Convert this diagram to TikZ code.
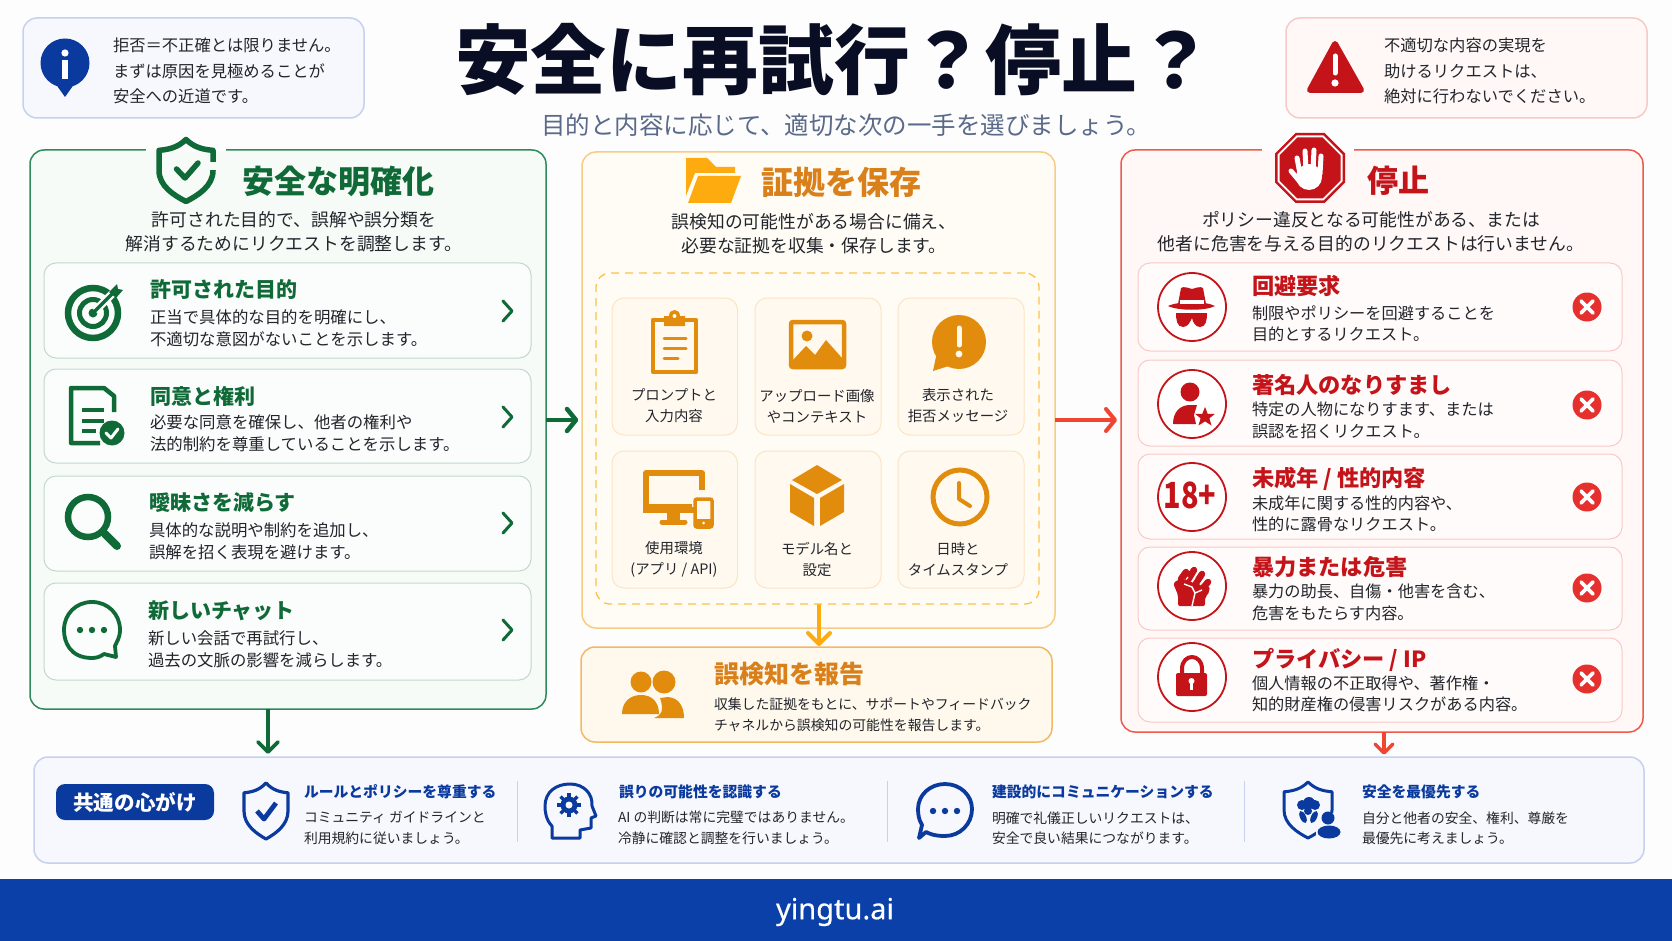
\documentclass[tikz,border=0pt]{standalone}
\usepackage{fontspec}
\setmainfont{Noto Sans CJK JP}
\IfFontExistsTF{Noto Sans CJK JP Black}{\newfontfamily\titlefont{Noto Sans CJK JP Black}}{\newfontfamily\titlefont{Noto Sans CJK JP Bold}}
\newfontfamily\latinfont[FakeBold=0.4]{Noto Sans}
\definecolor{bgc}{HTML}{FDFDFE}
\definecolor{ink}{HTML}{22252B}
\definecolor{titleink}{HTML}{0A0E24}
\definecolor{subink}{HTML}{5A6A88}
\definecolor{navy}{HTML}{0B3A9E}
\definecolor{footc}{HTML}{0A40A8}
\definecolor{blueB}{HTML}{C6D1EE}
\definecolor{blueF}{HTML}{F6F8FD}
\definecolor{gD}{HTML}{0F6A38}
\definecolor{gB}{HTML}{2F8A5C}
\definecolor{gF}{HTML}{F6FBF7}
\definecolor{gcB}{HTML}{C3D9CD}
\definecolor{gcF}{HTML}{FAFDFB}
\definecolor{oT}{HTML}{D9801A}
\definecolor{oI}{HTML}{E28C0E}
\definecolor{oY}{HTML}{FDAB0E}
\definecolor{oB}{HTML}{F8CC82}
\definecolor{oF}{HTML}{FFFCF6}
\definecolor{otF}{HTML}{FFF9EF}
\definecolor{otB}{HTML}{FBE5C4}
\definecolor{orF}{HTML}{FFF8EC}
\definecolor{orB}{HTML}{F3B862}
\definecolor{rD}{HTML}{C4141A}
\definecolor{rB}{HTML}{EE5A4C}
\definecolor{rF}{HTML}{FFF8F7}
\definecolor{rcB}{HTML}{F8C9C6}
\definecolor{rcF}{HTML}{FFFBFA}
\definecolor{rX}{HTML}{E6302E}
\definecolor{rA}{HTML}{F04530}
\definecolor{wB}{HTML}{F8CAC6}
\newcommand\bx[6]{\node[#1,minimum width={(#5-#3)*1pt},minimum height={(#6-#4)*1pt}] (#2) at ({(#3+#5)/2},{(#4+#6)/2}) {};}
\newcommand\unitshield{(0,-1) .. controls (-.3,-.75) and (-.6,-.68) .. (-1,-.65) -- (-1,0) .. controls (-1,.5) and (-.45,.8) .. (0,1) .. controls (.45,.8) and (1,.5) .. (1,0) -- (1,-.65) .. controls (.6,-.68) and (.3,-.75) .. (0,-1) -- cycle}
\newcommand\unitocta{(-.414,-1) -- (.414,-1) -- (1,-.414) -- (1,.414) -- (.414,1) -- (-.414,1) -- (-1,.414) -- (-1,-.414) -- cycle}
\newcommand\xmark[2]{\fill[rX] (#1,#2) circle[radius=14.5];
 \draw[white,line width=3.6pt,line cap=round] (#1-6,#2-6) -- (#1+6,#2+6) (#1+6,#2-6) -- (#1-6,#2+6);}
\newcommand\ring[2]{\draw[rD,line width=1.8pt,fill=white] (#1,#2) circle[radius=34];}
\newcommand\chev[2]{\draw[gD,line width=3pt,line cap=round,line join=round] (#1-4,#2-10) -- (#1+5,#2) -- (#1-4,#2+10);}
\tikzset{
 every node/.style={inner sep=0pt,outer sep=0pt},
 pan/.style={draw,rounded corners=14pt,line width=1.5pt},
 crd/.style={draw,rounded corners=12pt,line width=1pt},
 tL/.style={anchor=west,align=left,text=ink},
 tC/.style={anchor=center,align=center,text=ink},
 gT/.style={anchor=west,text=gD,font=\bfseries\fontsize{21}{24}\selectfont},
 gb/.style={tL,font=\fontsize{16.4}{22}\selectfont},
 rT/.style={anchor=west,text=rD,font=\bfseries\fontsize{22.2}{24}\selectfont},
 rb/.style={tL,font=\fontsize{16.2}{21.5}\selectfont},
 desc/.style={tC,font=\fontsize{17.8}{24}\selectfont},
 note/.style={tL,font=\fontsize{16.3}{25.5}\selectfont},
 tile/.style={tC,font=\fontsize{14.4}{21}\selectfont,text=ink},
 bT/.style={anchor=west,text=navy,font=\bfseries\fontsize{14.8}{18}\selectfont},
 bb/.style={tL,font=\fontsize{13.8}{20.5}\selectfont},
 oarrow/.style={line width=#1,line cap=round,line join=round},
}
\begin{document}
\begin{tikzpicture}[x=1pt,y=-1pt]
\useasboundingbox (0,0) rectangle (1672,941);
\fill[bgc] (0,0) rectangle (1672,941);
% top notes
\bx{pan,draw=blueB,fill=blueF}{infobox}{23}{18}{364}{118}
\bx{pan,draw=wB,fill=rF}{warnbox}{1286}{18}{1647}{118}
\fill[navy] (65,63) circle[radius=24.5] (55,83) -- (75,83) -- (65,97) -- cycle;
\fill[white] (65,53) circle[radius=3.6];
\draw[white,line width=6pt] (65,60) -- (65,79);
\node[note] (infot) at (113,71) {拒否＝不正確とは限りません。\\まずは原因を見極めることが\\安全への近道です。};
\draw[fill=rD,draw=rD,line width=6pt,line join=round] (1335,44) -- (1361,90) -- (1310,90) -- cycle;
\draw[white,line width=5pt,line cap=round] (1335,56) -- (1335,73);
\fill[white] (1335,83) circle[radius=3.6];
\node[note] (warnt) at (1384,71) {不適切な内容の実現を\\助けるリクエストは、\\絶対に行わないでください。};
% heading
\node[anchor=center,text=titleink,font=\titlefont\fontsize{75.8}{80}\selectfont] (head) at (834,60) {安全に再試行？停止？};
\node[anchor=center,text=subink,font=\fontsize{24.5}{28}\selectfont] (sub) at (846,125) {目的と内容に応じて、適切な次の一手を選びましょう。};
% panels
\bx{pan,draw=gB,fill=gF}{greenp}{30}{150}{546}{709}
\bx{pan,draw=oB,fill=oF}{orangep}{582}{152}{1055}{628}
\bx{pan,draw=rB,fill=rF}{redp}{1121}{150}{1643}{732}
\draw[bgc,line width=3pt] (146,150) -- (226,150);
\draw[bgc,line width=3pt] (1262,150) -- (1354,150);
\bx{pan,draw=orB,fill=orF}{reportp}{581}{647}{1052}{742}
\bx{pan,draw=blueB,fill=blueF}{bottomp}{34}{757}{1644}{863}
\fill[footc] (0,879) rectangle (1672,941);
\node[anchor=center,text=white,font=\latinfont\fontsize{29}{32}\selectfont] (foot) at (835,912) {yingtu.ai};
% connectors
\coordinate (ay) at (0,420);
\coordinate (gx) at (268,0);
\coordinate (ox) at (819,0);
\coordinate (rx) at (1384,0);
\draw[gD,line width=4.5pt] (greenp.east |- ay) -- (574,420);
\draw[gD,oarrow=4.5pt] (567,409) -- (576,420) -- (567,431);
\draw[rA,line width=4pt] (orangep.east |- ay) -- (1113,420);
\draw[rA,oarrow=4pt] (1106,409) -- (1115,420) -- (1106,431);
\coordinate (otop) at (819,604);
\draw[oY,line width=4pt] (otop) -- (819,642);
\draw[oY,oarrow=4pt] (808,633) -- (819,644) -- (830,633);
\draw[gD,line width=3.6pt] (greenp.south -| gx) -- (268,751);
\draw[gD,oarrow=3.6pt] (258,742) -- (268,752) -- (278,742);
\draw[rA,line width=3.4pt] (redp.south -| rx) -- (1384,752);
\draw[rA,oarrow=3.4pt] (1375,744) -- (1384,753) -- (1393,744);
% green header
\draw[gD,line width=5.5pt,line join=round,shift={(186,170.5)},xscale=27,yscale=31] \unitshield;
\draw[gF,line width=7pt] (213,162) -- (213,170);
\draw[gD,line width=5.5pt,line cap=round,line join=round] (176.5,169) -- (185,178) -- (198,163);
\node[anchor=west,text=gD,font=\bfseries\fontsize{32}{36}\selectfont] (gtitle) at (242,181) {安全な明確化};
\node[desc] (gdesc) at (294,232) {許可された目的で、誤解や誤分類を\\解消するためにリクエストを調整します。};
% green cards
\bx{crd,draw=gcB,fill=gcF}{g1}{44}{263}{531}{358}
\bx{crd,draw=gcB,fill=gcF}{g2}{44}{369}{531}{463}
\bx{crd,draw=gcB,fill=gcF}{g3}{44}{476}{531}{571}
\bx{crd,draw=gcB,fill=gcF}{g4}{44}{583}{531}{680}
\node[gT] (g1t) at (150,289) {許可された目的};
\node[gb] (g1b) at (150,328) {正当で具体的な目的を明確にし、\\不適切な意図がないことを示します。};
\node[gT] (g2t) at (150,396) {同意と権利};
\node[gb] (g2b) at (150,433) {必要な同意を確保し、他者の権利や\\法的制約を尊重していることを示します。};
\node[gT] (g3t) at (149,503) {曖昧さを減らす};
\node[gb] (g3b) at (149,541.5) {具体的な説明や制約を追加し、\\誤解を招く表現を避けます。};
\node[gT] (g4t) at (148,611) {新しいチャット};
\node[gb] (g4b) at (148,649.5) {新しい会話で再試行し、\\過去の文脈の影響を減らします。};
\chev{507}{311}\chev{507}{417}\chev{507}{523}\chev{507}{630}
% target
\draw[gD,line width=6.5pt] (93,313) circle[radius=25];
\draw[gD,line width=5pt] (93,313) circle[radius=13.5];
\fill[gD] (93,313) circle[radius=4.5];
\draw[gcF,line width=8pt] (95,311) -- (115,291);
\draw[gD,line width=3.5pt] (93,313) -- (115,291);
\fill[gD] (109,292) -- (117,284) -- (118,289) -- (123,290) -- (116,298) -- cycle;
% doc
\draw[gD,line width=4.5pt,line join=round] (114,412) -- (114,396) -- (104,388) -- (71,388) -- (71,443) -- (100,443);
\draw[gD,line width=3.5pt] (82,410) -- (104,410) (82,421) -- (104,421) (82,431) -- (96,431);
\fill[gD] (112,433) circle[radius=12.5];
\draw[white,line width=3pt,line cap=round,line join=round] (106,433) -- (111,438) -- (118,429);
% magnifier
\draw[gD,line width=6.5pt] (88,517) circle[radius=20];
\draw[gD,line width=8pt,line cap=round] (105,534) -- (117,546);
% green bubble
\draw[gD,line width=3.8pt,line join=round] (92,658) .. controls (70,658) and (64,642) .. (64,630) .. controls (64,614) and (76,602) .. (92,602) .. controls (108,602) and (120,614) .. (120,630) .. controls (120,638) and (116,643) .. (115,646) -- (116,657) -- (104,654) .. controls (100,657) and (96,658) .. (92,658) -- cycle;
\fill[gD] (80,630) circle[radius=3.2] (92,630) circle[radius=3.2] (104,630) circle[radius=3.2];
% orange header
\fill[oY] (686,158) -- (707,158) -- (716,167) -- (735,167) -- (735,173) -- (695,173) -- (689,188) -- (686,196) -- cycle;
\fill[oY] (698,176) -- (741,176) -- (731,203) -- (688,203) -- cycle;
\node[anchor=west,text=oT,font=\bfseries\fontsize{32}{36}\selectfont] (otitle) at (761,182) {証拠を保存};
\node[desc] (odesc) at (814,234) {誤検知の可能性がある場合に備え、\\必要な証拠を収集・保存します。};
\bx{draw=oY!75,rounded corners=14pt,line width=1.3pt,dash pattern=on 8pt off 6pt}{dashbox}{596}{273}{1039}{604}
\bx{crd,draw=otB,fill=otF}{t1}{612}{298}{737.5}{435}
\bx{crd,draw=otB,fill=otF}{t2}{755}{298}{881}{435}
\bx{crd,draw=otB,fill=otF}{t3}{898}{298}{1024}{435}
\bx{crd,draw=otB,fill=otF}{t4}{612}{451}{737.5}{588}
\bx{crd,draw=otB,fill=otF}{t5}{755}{451}{881}{588}
\bx{crd,draw=otB,fill=otF}{t6}{898}{451}{1024}{588}
\node[tile] (t1t) at (674,406) {プロンプトと\\入力内容};
\node[tile] (t2t) at (817,406) {アップロード画像\\やコンテキスト};
\node[tile] (t3t) at (958,406) {表示された\\拒否メッセージ};
\node[tile] (t4t) at (674,559.5) {使用環境\\(アプリ / API)};
\node[tile] (t5t) at (817,559.5) {モデル名と\\設定};
\node[tile] (t6t) at (958,559.5) {日時と\\タイムスタンプ};
% clipboard
\draw[oI,line width=4.5pt,line join=round] (664,320) -- (653,320) -- (653,372) -- (696,372) -- (696,320) -- (685,320);
\fill[oI] (664,316) -- (669,316) .. controls (669,308) and (680,308) .. (680,316) -- (685,316) -- (685,326) -- (664,326) -- cycle;
\fill[otF] (674.5,316) circle[radius=2];
\draw[oI,line width=3pt,line cap=round] (664,338) -- (686,338) (664,348) -- (686,348) (664,358) -- (678,358);
% image
\draw[oI,line width=4.5pt,rounded corners=2pt,fill=otF] (791,322) rectangle (844,367);
\fill[oI] (807,336) circle[radius=5.5];
\fill[oI] (793,360) -- (806,346) -- (815,355) -- (826,340) -- (842,358) -- (842,365) -- (793,365) -- cycle;
% bubble
\fill[oI] (959,342) circle[radius=27];
\fill[oI] (937,352) -- (933,371) -- (955,364) -- cycle;
\draw[otF,line width=5pt,line cap=round] (959,328) -- (959,345);
\fill[otF] (959,354) circle[radius=3.4];
% monitor
\draw[oI,line width=5.5pt,line join=round] (695,510) -- (646,510) -- (646,473) -- (702,473) -- (702,490);
\fill[oI] (643,504) rectangle (692,513);
\fill[oI] (667,513) rectangle (680,520);
\draw[oI,line width=5pt,line cap=round] (662,522) -- (685,522);
\draw[oI,line width=3.5pt,fill=otF,rounded corners=2pt] (695,499) rectangle (712,527);
\fill[oI] (695,519) rectangle (712,527);
\fill[otF] (703.5,523) circle[radius=1.5];
% cube
\fill[oI] (817,465) -- (842,480) -- (817,494) -- (792,480) -- cycle;
\fill[oI] (790,484) -- (814,498) -- (814,526) -- (790,512) -- cycle;
\fill[oI] (844,484) -- (820,498) -- (820,526) -- (844,512) -- cycle;
% clock
\draw[oI,line width=5pt] (960,497) circle[radius=27];
\draw[oI,line width=4pt,line cap=round,line join=round] (959,483) -- (959,499) -- (970,506);
% report
\fill[oI] (641,682) circle[radius=10.5];
\fill[oI] (664,682) circle[radius=11.5];
\fill[oI] (668,697) .. controls (680,698) and (684,708) .. (684,718) -- (654,718) .. controls (660,716) and (665,712) .. (660,698) -- cycle;
\fill[oI] (622,714) .. controls (622,702) and (630,695) .. (641,695) .. controls (652,695) and (659,702) .. (659,714) -- cycle;
\node[anchor=west,text=oT,font=\bfseries\fontsize{25}{28}\selectfont] (rptt) at (714,674) {誤検知を報告};
\node[tL,font=\fontsize{13.85}{21}\selectfont] (rptb) at (714,714.5) {収集した証拠をもとに、サポートやフィードバック\\チャネルから誤検知の可能性を報告します。};
% red header
\fill[rD,shift={(1310,168)},scale=35] \unitocta;
\fill[white,shift={(1310,168)},scale=32.5] \unitocta;
\fill[rD,shift={(1310,168)},scale=30.5] \unitocta;
\fill[white] (1309,177) circle[radius=13];
\draw[white,line width=5pt,line cap=round] (1300,174) -- (1297,158) (1306,170) -- (1305,151) (1313,170) -- (1314,150) (1320,174) -- (1321,156) (1301,183) -- (1291,171);
\node[anchor=west,text=rD,font=\bfseries\fontsize{31}{36}\selectfont] (rtitle) at (1367,181) {停止};
\node[desc] (rdesc) at (1371,232) {ポリシー違反となる可能性がある、または\\他者に危害を与える目的のリクエストは行いません。};
% red cards
\bx{crd,draw=rcB,fill=rcF}{r1}{1138}{263}{1622}{351}
\bx{crd,draw=rcB,fill=rcF}{r2}{1138}{360}{1622}{446}
\bx{crd,draw=rcB,fill=rcF}{r3}{1138}{454}{1622}{539}
\bx{crd,draw=rcB,fill=rcF}{r4}{1138}{547}{1622}{630}
\bx{crd,draw=rcB,fill=rcF}{r5}{1138}{638}{1622}{722}
\node[rT] (r1t) at (1252,286) {回避要求};
\node[rb] (r1b) at (1252,323.5) {制限やポリシーを回避することを\\目的とするリクエスト。};
\node[rT] (r2t) at (1252,385) {著名人のなりすまし};
\node[rb] (r2b) at (1252,420.5) {特定の人物になりすます、または\\誤認を招くリクエスト。};
\node[rT] (r3t) at (1252,478.5) {未成年 / 性的内容};
\node[rb] (r3b) at (1252,514) {未成年に関する性的内容や、\\性的に露骨なリクエスト。};
\node[rT] (r4t) at (1252,567) {暴力または危害};
\node[rb] (r4b) at (1252,602.5) {暴力の助長、自傷・他害を含む、\\危害をもたらす内容。};
\node[rT] (r5t) at (1252,659.5) {プライバシー / IP};
\node[rb] (r5b) at (1252,694) {個人情報の不正取得や、著作権・\\知的財産権の侵害リスクがある内容。};
\xmark{1587}{307}\xmark{1587}{405}\xmark{1587}{497}\xmark{1587}{588}\xmark{1587}{679}
\ring{1192}{307}\ring{1192}{404}\ring{1192}{497}\ring{1192}{586}\ring{1192}{677}
% spy
\fill[rD] (1178,304) -- (1181,288) .. controls (1184,286) and (1188,288) .. (1192,289) .. controls (1196,288) and (1200,286) .. (1203,288) -- (1206,304) -- cycle;
\fill[rD] (1168,306) .. controls (1178,301) and (1206,301) .. (1215,306) .. controls (1206,311) and (1178,311) .. (1168,306) -- cycle;
\fill[white] (1180,300) rectangle (1204,303.5);
\fill[rD] (1176,313) -- (1207,313) .. controls (1207,320) and (1206,327) .. (1200,327) .. controls (1195,327) and (1193,322) .. (1192,318) .. controls (1190,322) and (1188,327) .. (1183,327) .. controls (1177,327) and (1176,320) .. (1176,313) -- cycle;
% person star
\fill[rD] (1190,392) circle[radius=9.5];
\fill[rD] (1173,424) .. controls (1173,412) and (1180,405) .. (1190,405) -- (1197,405) -- (1194,415) -- (1196,424) -- cycle;
\fill[rD,shift={(1205,417)}] (0,-10) -- (2.7,-3.2) -- (10,-3.2) -- (4.4,1.3) -- (6.5,8.5) -- (0,4.4) -- (-6.5,8.5) -- (-4.4,1.3) -- (-10,-3.2) -- (-2.7,-3.2) -- cycle;
% 18+
\node[anchor=center,text=rD,xscale=.8,transform shape,font=\bfseries\fontsize{36}{38}\selectfont] (age) at (1190,495) {18+};
% fist
\fill[rD,rounded corners=2pt] (1173,583) -- (1180,579) -- (1210,587) -- (1208,595) -- (1205,597) -- (1205,606) -- (1178,606) -- (1178,595) -- cycle;
\draw[rD,line width=6.5pt,line cap=round] (1181,579) -- (1186,572) (1188,580) -- (1194,570) (1196,583) -- (1202,574) (1203,588) -- (1208,582);
\draw[rcF,line width=1.2pt] (1186,579.5) -- (1188,577) (1192,582) -- (1195,578) (1200,585) -- (1202,582);
\draw[white,line width=1.4pt] (1184,584) -- (1192,587) -- (1195,593) -- (1192,606) (1195,593) -- (1202,590);
% lock
\draw[rD,line width=4pt] (1182,676) -- (1182,669) .. controls (1182,653) and (1202,653) .. (1202,669) -- (1202,676);
\fill[rD,rounded corners=2pt] (1176,673) rectangle (1207,696);
\fill[white] (1191.5,681) circle[radius=3];
\draw[white,line width=2.5pt] (1191.5,682) -- (1191.5,690);
% bottom band
\fill[navy,rounded corners=9pt] (56,784) rectangle (214,820);
\node[anchor=center,text=white,font=\bfseries\fontsize{20.6}{24}\selectfont] (pill) at (135,802) {共通の心がけ};
\draw[blueB,line width=1pt] (517,781) -- (517,842) (887,781) -- (887,842) (1244,781) -- (1244,842);
\draw[navy,line width=3.2pt,line join=round,shift={(266,811)},xscale=22,yscale=28] \unitshield;
\draw[navy,line width=4.8pt,line join=round] (257,811) -- (264,819) -- (276,803);
\node[bT] (b1t) at (304,792) {ルールとポリシーを尊重する};
\node[bb] (b1b) at (304,828) {コミュニティ ガイドラインと\\利用規約に従いましょう。};
\draw[navy,line width=3pt,line join=round] (552,838) -- (552,826) .. controls (546,820) and (545,812) .. (545,806) .. controls (545,792) and (556,784) .. (570,784) .. controls (584,784) and (593,794) .. (592,806) -- (596,816) -- (591,818) -- (591,828) -- (580,830) -- (580,838) -- cycle;
\foreach \a in {0,45,90,135} {\draw[navy,line width=3.5pt,rotate around={\a:(569,805)}] (557,805) -- (581,805);}
\fill[navy] (569,805) circle[radius=8.5];
\fill[blueF] (569,805) circle[radius=3.5];
\node[bT] (b2t) at (619,792) {誤りの可能性を認識する};
\node[bb] (b2b) at (618,828) {AI の判断は常に完璧ではありません。\\冷静に確認と調整を行いましょう。};
\draw[navy,line width=3.8pt,line join=round] (945,836) .. controls (935,836) and (930,834) .. (926,832) -- (919,838) -- (922,825) .. controls (919,820) and (918,815) .. (918,809) .. controls (918,795) and (930,784) .. (945,784) .. controls (960,784) and (972,795) .. (972,809) .. controls (972,824) and (960,836) .. (945,836) -- cycle;
\fill[navy] (933,811) circle[radius=3.2] (945,811) circle[radius=3.2] (957,811) circle[radius=3.2];
\node[bT] (b3t) at (992,792) {建設的にコミュニケーションする};
\node[bb] (b3b) at (992,828) {明確で礼儀正しいリクエストは、\\安全で良い結果につながります。};
\draw[navy,line width=3pt,line join=round,shift={(1308,810)},xscale=24,yscale=28] \unitshield;
\fill[blueF] (1316,813) rectangle (1337,843);
\fill[navy] (1309,803) circle[radius=6] (1302,805) circle[radius=5] (1315,805) circle[radius=5] (1308,811) circle[radius=4];
\fill[navy,rotate around={25:(1303,817)}] (1303,817) ellipse[x radius=3,y radius=6.5];
\fill[navy,rotate around={-25:(1314,817)}] (1314,817) ellipse[x radius=3,y radius=6.5];
\fill[navy] (1328,818) circle[radius=6.5];
\fill[navy] (1329,832) ellipse[x radius=11.5,y radius=6.5];
\node[bT] (b4t) at (1362,792) {安全を最優先する};
\node[bb] (b4b) at (1362,828) {自分と他者の安全、権利、尊厳を\\最優先に考えましょう。};
\end{tikzpicture}
\end{document}
